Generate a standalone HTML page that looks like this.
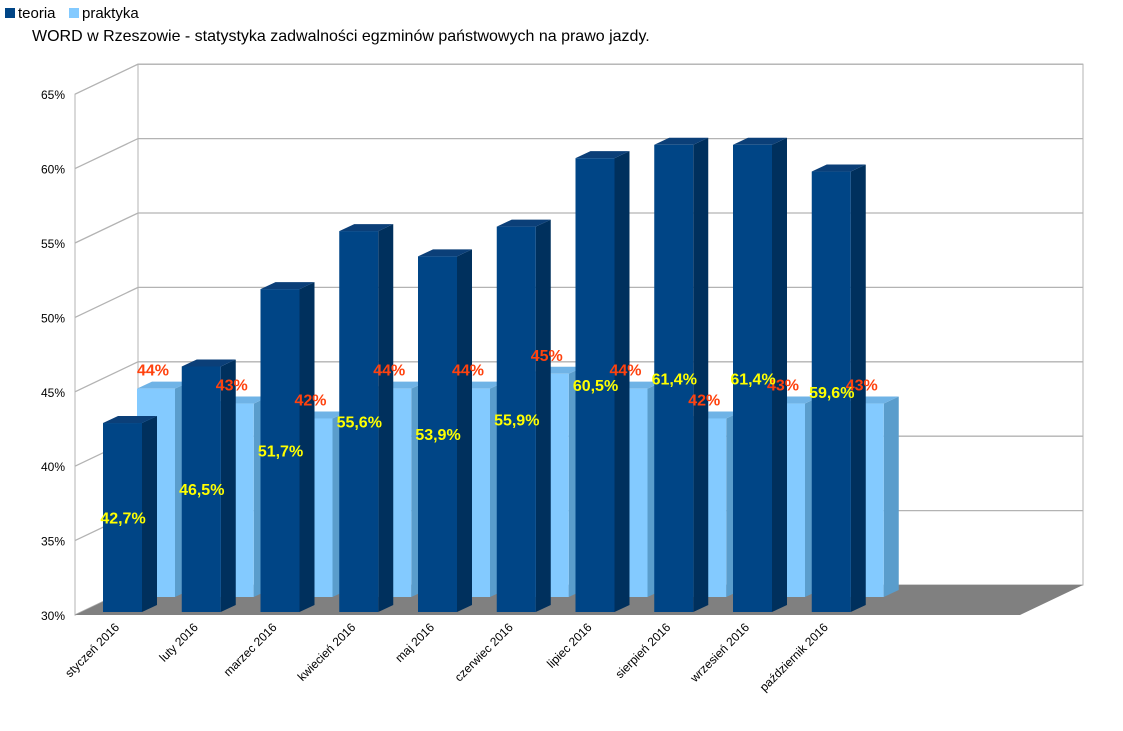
<!DOCTYPE html>
<html><head><meta charset="utf-8"><style>
body{margin:0;background:#fff;width:1123px;height:726px;overflow:hidden;font-family:"Liberation Sans",sans-serif}
</style></head><body>
<svg width="1123" height="726">
<g>
<rect x="5" y="8" width="10" height="10" fill="#004586"/>
<text x="18" y="18" font-size="15">teoria</text>
<rect x="69" y="8" width="10" height="10" fill="#83caff"/>
<text x="82" y="18" font-size="15">praktyka</text>
</g>
<text x="32" y="41" font-size="16">WORD w Rzeszowie - statystyka zadwalności egzminów państwowych na prawo jazdy.</text>
<g id="walls"></g>
<g id="bars"></g>
<g id="labels"></g>
</svg>
<script>
const categories=["styczeń 2016","luty 2016","marzec 2016","kwiecień 2016","maj 2016","czerwiec 2016","lipiec 2016","sierpień 2016","wrzesień 2016","październik 2016"];
const teoria=[42.7,46.5,51.7,55.6,53.9,55.9,60.5,61.4,61.4,59.6];
const praktyka=[44,43,42,44,44,45,44,42,43,43];
const ticks=[30,35,40,45,50,55,60,65];
const NS="http://www.w3.org/2000/svg";
function mk(tag,attrs,parent){const e=document.createElementNS(NS,tag);for(const k in attrs)e.setAttribute(k,attrs[k]);parent.appendChild(e);return e;}
const walls=document.getElementById('walls'),bars=document.getElementById('bars'),labels=document.getElementById('labels');
const FX=75,FB=615,DX=63,DY=-30,SC=14.88,SLOT=78.75;
function yFront(v){return FB-(v-30)*SC;}
// left wall
let lw=mk('polygon',{points:`${FX},${yFront(65)} ${FX+DX},${yFront(65)+DY} ${FX+DX},${FB+DY} ${FX},${FB}`,fill:'#fff',stroke:'#b3b3b3'},walls);


let bw=mk('rect',{x:FX+DX,y:yFront(65)+DY,width:945,height:(65-30)*SC,fill:'#fff',stroke:'#b3b3b3'},walls);


ticks.forEach(t=>{
 const y=yFront(t);
 let g=mk('polyline',{points:`${FX},${y} ${FX+DX},${y+DY} ${FX+DX+945},${y+DY}`,fill:'none',stroke:'#b3b3b3','stroke-width':1.3},walls);
 
 
 let tx=mk('text',{x:FX-10,y:y+5,'font-size':12,'text-anchor':'end'},labels);
 tx.textContent=t+'%';
 
 
});
let fl=mk('polygon',{points:`${FX},${FB} ${FX+DX},${FB+DY} ${FX+DX+945},${FB+DY} ${FX+945},${FB}`,fill:'#808080'},walls);


function bar(x,bottom,top,w,d,dy,cf,cs,ct,name){
 const g=mk('g',{},bars);
 
 
 mk('polygon',{points:`${x+w},${top} ${x+w+d},${top+dy} ${x+w+d},${bottom+dy} ${x+w},${bottom}`,fill:cs},g);
 mk('polygon',{points:`${x},${top} ${x+d},${top+dy} ${x+w+d},${top+dy} ${x+w},${top}`,fill:ct},g);
 mk('rect',{x:x,y:top,width:w,height:bottom-top,fill:cf},g);
}
// praktyka (back row)
praktyka.forEach((v,i)=>{
 const x=137+SLOT*i,bottom=597,top=bottom-(v-30)*SC;
 bar(x,bottom,top,38,15,-7,'#83caff','#5a9dcc','#6fb3e6','bar-praktyka');
});
teoria.forEach((v,i)=>{
 const x=103+SLOT*i,bottom=612,top=bottom-(v-30)*SC;
 bar(x,bottom,top,39,15,-7,'#004586','#00305d','#0b3f78','bar-teoria');
});
praktyka.forEach((v,i)=>{
 const x=137+SLOT*i+19,top=597-(v-30)*SC;
 let t=mk('text',{x:x-3,y:top-13,'font-size':16,'font-weight':'bold','text-anchor':'middle',fill:'#ff420e'},labels);
 t.textContent=v+'%';
 
 
});
teoria.forEach((v,i)=>{
 const x=103+SLOT*i+20,top=612-(v-30)*SC,mid=(top+612)/2;
 let t=mk('text',{x:x,y:mid+6,'font-size':16,'font-weight':'bold','text-anchor':'middle',fill:'#ffff00'},labels);
 t.textContent=String(v).replace('.',',')+'%';
 
 
});
categories.forEach((c,i)=>{
 const x=120+SLOT*i,y=628;
 let t=mk('text',{x:x,y:y,'font-size':12,'text-anchor':'end',transform:`rotate(-45 ${x} ${y})`},labels);
 t.textContent=c;
 
 
});
</script>
</body></html>
